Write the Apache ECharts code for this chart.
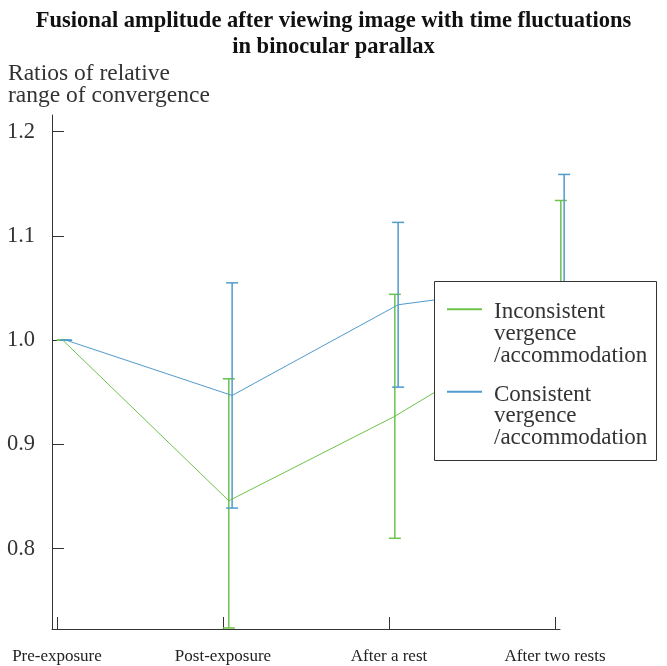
<!DOCTYPE html>
<html>
<head>
<meta charset="utf-8">
<script src="https://cdn.jsdelivr.net/npm/echarts@6/dist/echarts.min.js"></script>
<style>html,body{margin:0;padding:0;background:#fff}#c{width:667px;height:666px}</style>
</head>
<body>
<div id="c"></div>
<script>
// ---- data ----
const categories = ['Pre-exposure', 'Post-exposure', 'After a rest', 'After two rests'];
const yTicks = [0.8, 0.9, 1.0, 1.1, 1.2];
const inconsistentMean  = [1.0, 0.846, 0.927, 1.023];
const inconsistentUpper = [1.0, 0.963, 1.044, 1.134];
const inconsistentLower = [1.0, 0.724, 0.810, 0.912];
const consistentMean    = [1.0, 0.947, 1.034, 1.055];
const consistentUpper   = [1.0, 1.055, 1.113, 1.159];
const consistentLower   = [1.0, 0.839, 0.955, 0.951];
const seriesNames = ['Inconsistent\nvergence\n/accommodation', 'Consistent\nvergence\n/accommodation'];

// ---- styles ----
const GREEN = '#6dc24b';
const BLUE = '#4f9bcb';
const AXIS = '#333';
const SERIF = '"Liberation Serif", "Times New Roman", serif';
const OFF_G = 0.035, OFF_B = 0.055; // small horizontal offsets of the two groups

function pts(mean, off) { return mean.map((v, i) => [i + off, v]); }
function bars(lo, hi, off) { return lo.map((v, i) => [i + off, v, hi[i]]); }
function errRender(color) {
  return function (params, api) {
    const x = api.value(0), lo = api.value(1), hi = api.value(2);
    const a = api.coord([x, hi]), b = api.coord([x, lo]);
    const hw = 6;
    const st = { stroke: color, lineWidth: 1.5, fill: null };
    return { type: 'group', children: [
      { type: 'line', shape: { x1: a[0], y1: a[1], x2: b[0], y2: b[1] }, style: st },
      { type: 'line', shape: { x1: a[0] - hw, y1: a[1], x2: a[0] + hw, y2: a[1] }, style: st },
      { type: 'line', shape: { x1: b[0] - hw, y1: b[1], x2: b[0] + hw, y2: b[1] }, style: st }
    ]};
  };
}

const chart = echarts.init(document.getElementById('c'), null, { renderer: 'canvas' });
chart.setOption({
  animation: false,
  backgroundColor: '#fff',
  textStyle: { fontFamily: SERIF },
  title: [{
    text: 'Fusional amplitude after viewing image with time fluctuations\nin binocular parallax',
    left: 'center', top: 8, padding: 0,
    textStyle: { fontFamily: SERIF, fontSize: 22.5, fontWeight: 'bold', color: '#111', lineHeight: 26 }
  }, {
    text: 'Ratios of relative\nrange of convergence',
    left: 8, top: 63, padding: 0,
    textStyle: { fontFamily: SERIF, fontSize: 23.5, fontWeight: 'normal', color: '#333', lineHeight: 22 }
  }],
  grid: { left: 52, right: 107, top: 115, bottom: 37, containLabel: false },
  xAxis: {
    type: 'value', min: -0.030, max: 3.030,
    splitLine: { show: false },
    axisLine: { show: true, onZero: false, lineStyle: { color: AXIS, width: 1 } },
    axisTick: { show: true, inside: true, length: 12, lineStyle: { color: AXIS }, customValues: [0, 1, 2, 3] },
    axisLabel: {
      customValues: [0, 1, 2, 3],
      formatter: v => categories[Math.round(v)] || '',
      fontFamily: SERIF, fontSize: 17, color: '#222', margin: 19
    }
  },
  yAxis: {
    type: 'value', min: 0.723, max: 1.216,
    splitLine: { show: false },
    axisLine: { show: true, onZero: false, lineStyle: { color: AXIS, width: 1 } },
    axisTick: { show: true, inside: true, length: 12, lineStyle: { color: AXIS }, customValues: yTicks },
    axisLabel: {
      customValues: yTicks,
      formatter: v => v.toFixed(1),
      fontFamily: SERIF, fontSize: 22.5, color: '#333', margin: 17
    }
  },
  legend: {
    orient: 'vertical', left: 446, top: 252, padding: 0, z: 60,
    itemWidth: 35, itemHeight: 14, itemGap: -32.7,
    data: seriesNames,
    itemStyle: { opacity: 0, borderWidth: 0 },
    formatter: name => '{b| }\n{b| }\n' + name.split('\n').map(s => '{t|' + s + '}').join('\n'),
    textStyle: {
      fontFamily: SERIF, fontSize: 23, color: '#333', lineHeight: 21.7,
      rich: {
        t: { fontFamily: SERIF, fontSize: 23, color: '#333', lineHeight: 21.7, padding: [0, 0, 0, 7] },
        b: { fontFamily: SERIF, fontSize: 10, lineHeight: 24.7 }
      }
    }
  },
  graphic: [{
    type: 'rect', z: 50,
    shape: { x: 434.5, y: 281.5, width: 222, height: 179 },
    style: { fill: '#fff', stroke: AXIS, lineWidth: 1 }
  }],
  series: [
    { name: seriesNames[0], type: 'line', data: pts(inconsistentMean, OFF_G), symbol: 'none',
      lineStyle: { color: GREEN, width: 1 }, itemStyle: { color: GREEN }, z: 3 },
    { name: seriesNames[1], type: 'line', data: pts(consistentMean, OFF_B), symbol: 'none',
      lineStyle: { color: BLUE, width: 1 }, itemStyle: { color: BLUE }, z: 3 },
    { type: 'custom', name: 'range-inconsistent', data: bars(inconsistentLower, inconsistentUpper, OFF_G),
      renderItem: errRender(GREEN), encode: { x: 0, y: [1, 2] }, clip: false, z: 2 },
    { type: 'custom', name: 'range-consistent', data: bars(consistentLower, consistentUpper, OFF_B),
      renderItem: errRender(BLUE), encode: { x: 0, y: [1, 2] }, clip: false, z: 2 }
  ]
});
</script>
</body>
</html>
